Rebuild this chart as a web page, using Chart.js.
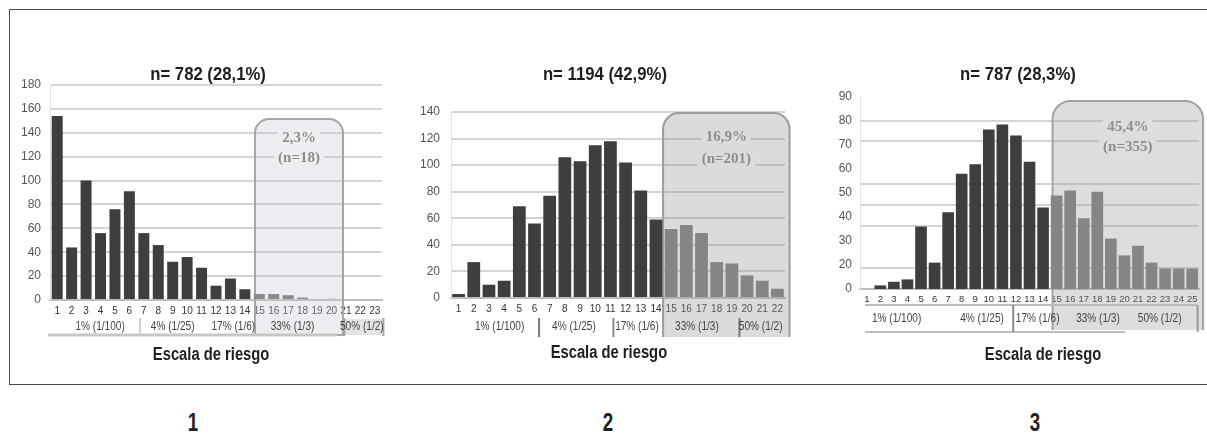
<!DOCTYPE html>
<html><head><meta charset="utf-8">
<script src="https://cdn.jsdelivr.net/npm/chart.js@4.4.1/dist/chart.umd.min.js"></script>
<style>
html,body{margin:0;padding:0;background:#fff;}
body{width:1207px;height:438px;overflow:hidden;position:relative;}
#frame{position:absolute;left:9px;top:9px;width:1230px;height:376px;border:1.5px solid #4a4a4a;box-sizing:border-box;}
canvas{position:absolute;top:0;}
.num{position:absolute;top:407px;width:40px;margin-left:-20px;text-align:center;font:bold 26px 'Liberation Sans',sans-serif;color:#222;transform:scaleX(0.72);}
</style></head>
<body>
<div id="frame"></div>
<canvas id="c1" width="390" height="384" style="left:10px"></canvas>
<canvas id="c2" width="405" height="384" style="left:400px"></canvas>
<canvas id="c3" width="402" height="384" style="left:805px"></canvas>
<div class="num" style="left:193px">1</div>
<div class="num" style="left:608px">2</div>
<div class="num" style="left:1035px">3</div>
<script>
// ---------- data ----------
const scores1 = ['1','2','3','4','5','6','7','8','9','10','11','12','13','14','15','16','17','18','19','20','21','22','23'];
const counts1 = [154,44,100,56,76,91,56,46,32,36,27,12,18,9,5,5,4,2,0,1,0,0,0];
const scores2 = ['1','2','3','4','5','6','7','8','9','10','11','12','13','14','15','16','17','18','19','20','21','22'];
const counts2 = [3,27,10,13,69,56,77,106,103,115,118,102,81,59,52,55,49,27,26,17,13,7];
const scores3 = ['1','2','3','4','5','6','7','8','9','10','11','12','13','14','15','16','17','18','19','20','21','22','23','24','25'];
const counts3 = [0,11.5,13,14,36,21,42,58,62,76.5,78.5,74,63,44,49,51,39.5,50.5,31,24,28,21,18.5,18.5,18.5];
const titles = ['n= 782 (28,1%)','n= 1194 (42,9%)','n= 787 (28,3%)'];
const highlightText1 = ['2,3%','(n=18)'];
const highlightText2 = ['16,9%','(n=201)'];
const highlightText3 = ['45,4%','(n=355)'];
const riskLabels = ['1% (1/100)','4% (1/25)','17% (1/6)','33% (1/3)','50% (1/2)'];
const xAxisTitle = 'Escala de riesgo';
const yTickLabels3 = ['0','20','30','40','50','60','70','80','90'];
const gridValues3 = [18.75,36.25,45,53.75,71.75,80];

// ---------- drawing ----------
Chart.defaults.animation = false;
const SANS = "'Liberation Sans',sans-serif";

function roundTop(ctx,l,t,r,b,rad,close){
  ctx.beginPath();
  ctx.moveTo(l,b); ctx.lineTo(l,t+rad); ctx.arcTo(l,t,l+rad,t,rad);
  ctx.lineTo(r-rad,t); ctx.arcTo(r,t,r,t+rad,rad); ctx.lineTo(r,b);
  if(close) ctx.closePath();
}
function condText(ctx,t,x,y,sx){
  ctx.save(); ctx.translate(x,y); ctx.scale(sx,1); ctx.fillText(t,0,0); ctx.restore();
}

const panelPlugin = {
  id:'panel',
  beforeDatasetsDraw(chart,args,o){
    const ctx=chart.ctx, px=v=>chart.scales.x.getPixelForValue(v);
    const b=o.box, l=px(b.from), r=px(b.to);
    ctx.save();
    roundTop(ctx,l,b.top,r,b.bottom,b.radius,true);
    ctx.fillStyle=b.fill; ctx.fill();
    roundTop(ctx,l,b.top,r,b.bottom,b.radius,b.closed);
    ctx.strokeStyle=b.stroke; ctx.lineWidth=2; ctx.stroke();
    ctx.font="bold 15px 'Liberation Serif',serif";
    ctx.textAlign='center'; ctx.textBaseline='middle';
    const cx=(l+r)/2;
    b.text.forEach((t,k)=>{
      const y=b.textY[k], w=ctx.measureText(t).width;
      ctx.fillStyle=b.textBg; ctx.fillRect(cx-w/2-4,y-7,w+8,14);
      ctx.fillStyle='#8e8e8e'; ctx.fillText(t,cx,y);
    });
    ctx.restore();
  },
  afterDraw(chart,args,o){
    const ctx=chart.ctx, px=v=>chart.scales.x.getPixelForValue(v);
    ctx.save();
    (o.rects||[]).forEach(q=>{ctx.fillStyle=q[4]; ctx.fillRect(px(q[0]),q[1],px(q[2])-px(q[0]),q[3]-q[1]);});
    (o.lines||[]).forEach(q=>{
      ctx.beginPath(); ctx.moveTo(px(q[0]),q[1]); ctx.lineTo(px(q[2]),q[3]);
      ctx.strokeStyle=q[4]; ctx.lineWidth=q[5]; ctx.stroke();
    });
    ctx.font="12px "+SANS; ctx.fillStyle='#444'; ctx.textAlign='center'; ctx.textBaseline='middle';
    riskLabels.forEach((t,k)=>condText(ctx,t,px(o.groupAt[k]),o.groupY,0.84));
    ctx.font="bold 19px "+SANS; ctx.fillStyle='#1e1e1e';
    condText(ctx,o.title,px(o.titleAt),75,0.88);
    ctx.font="bold 18px "+SANS;
    condText(ctx,xAxisTitle,px(o.xTitleAt),o.xTitleY,0.82);
    ctx.restore();
  }
};

function makePanel(id,labels,values,cfg){
  const colors=values.map((v,i)=> i<14 ? '#3e3e3e' : cfg.light);
  const scales={
    x:{grid:{display:false,drawTicks:false},border:{display:true,color:'#bdbdbd',width:2},
       ticks:{font:{size:cfg.xFont,family:SANS},color:'#333',padding:5,autoSkip:false,maxRotation:0},
       afterFit(s){s.height=cfg.xHeight;}},
    y:{min:cfg.yMin,max:cfg.yMax,
       ticks:{stepSize:cfg.step,font:{size:12,family:SANS},color:'#555',padding:cfg.tickPad,
              callback:cfg.tickCb||(v=>v)},
       grid:{display:cfg.grid!==false,color:'#d4d4d4',lineWidth:2,drawTicks:false},
       border:{display:true,color:'#e2e2e2',width:1},
       afterFit(s){s.width=cfg.yWidth;}}
  };
  if(cfg.extraGrid){
    scales.g={type:'linear',position:'left',min:cfg.yMin,max:cfg.yMax,
      ticks:{display:false},grid:{color:'#d4d4d4',lineWidth:2,drawTicks:false},border:{display:false},
      afterBuildTicks(s){s.ticks=cfg.extraGrid.map(v=>({value:v}));},
      afterFit(s){s.width=0;}};
  }
  new Chart(document.getElementById(id),{
    type:'bar',
    data:{labels:labels,datasets:[{data:values,backgroundColor:colors,barPercentage:cfg.barPct,categoryPercentage:1}]},
    options:{responsive:false,animation:false,
      layout:{padding:{left:0,right:cfg.padRight,top:cfg.padTop,bottom:0}},
      plugins:{legend:{display:false},tooltip:{enabled:false},panel:cfg.panel},
      scales:scales},
    plugins:[panelPlugin]
  });
}

makePanel('c1',scores1,counts1,{
  light:'#8a8a8a',yMin:0,yMax:180,step:20,yWidth:40,tickPad:9,padRight:18,padTop:85,xHeight:84,barPct:0.76,xFont:10,
  panel:{title:titles[0],titleAt:10.45,xTitleAt:10.66,xTitleY:355,groupY:327,groupAt:[2.97,8.0,12.2,16.3,21.1],
    box:{from:13.7,to:19.8,top:119,bottom:335,radius:14,fill:'rgba(200,200,212,0.32)',stroke:'#a6a6a6',closed:true,
         text:highlightText1,textY:[138,158],textBg:'#eeeef1'},
    rects:[[19.9,319,22.6,335,'#e4e4e4']],
    lines:[[-0.64,335,19.4,335,'#c6c6c6',3],[5.74,318,5.74,335,'#cfcfcf',2],
           [19.9,318,19.9,336,'#a8a8a8',2],[22.6,318,22.6,336,'#a8a8a8',2]]}
});

makePanel('c2',scores2,counts2,{
  light:'#858585',yMin:0,yMax:140,step:20,yWidth:51,tickPad:11,padRight:20,padTop:112,xHeight:86,barPct:0.84,xFont:10,
  panel:{title:titles[1],titleAt:9.64,xTitleAt:9.9,xTitleY:353,groupY:327,groupAt:[2.7,7.6,11.75,15.7,19.9],
    box:{from:13.47,to:21.8,top:113,bottom:337,radius:16,fill:'rgba(150,150,155,0.34)',stroke:'#9c9c9c',closed:false,
         text:highlightText2,textY:[137,159],textBg:'#dcdcdd'},
    rects:[],
    lines:[[5.3,318,5.3,337,'#7a7a7a',2],[10.2,318,10.2,337,'#8a8a8a',2],[18.5,318,18.5,337,'#7a7a7a',2]]}
});

makePanel('c3',scores3,counts3,{
  light:'#858585',yMin:10,yMax:90,step:10,yWidth:55,tickPad:8,padRight:8,padTop:97,xHeight:95,barPct:0.86,xFont:9.5,
  grid:false,extraGrid:gridValues3,
  tickCb:(v)=>yTickLabels3[(v===10)?0:(v-10)/10],
  panel:{title:titles[2],titleAt:11.15,xTitleAt:13.0,xTitleY:355,groupY:319,groupAt:[2.2,8.5,12.6,17.05,21.6],
    box:{from:13.7,to:24.8,top:101,bottom:330,radius:18,fill:'rgba(150,150,155,0.32)',stroke:'#a2a2a2',closed:false,
         text:highlightText3,textY:[127,147],textBg:'#dedede'},
    rects:[],
    lines:[[-0.13,305,24.4,305,'#bdbdbd',2],[-0.13,332,19.05,332,'#bdbdbd',2],
           [10.8,305,10.8,332,'#888',2],[24.4,305,24.4,332,'#9a9a9a',2]]}
});
</script>
</body></html>
